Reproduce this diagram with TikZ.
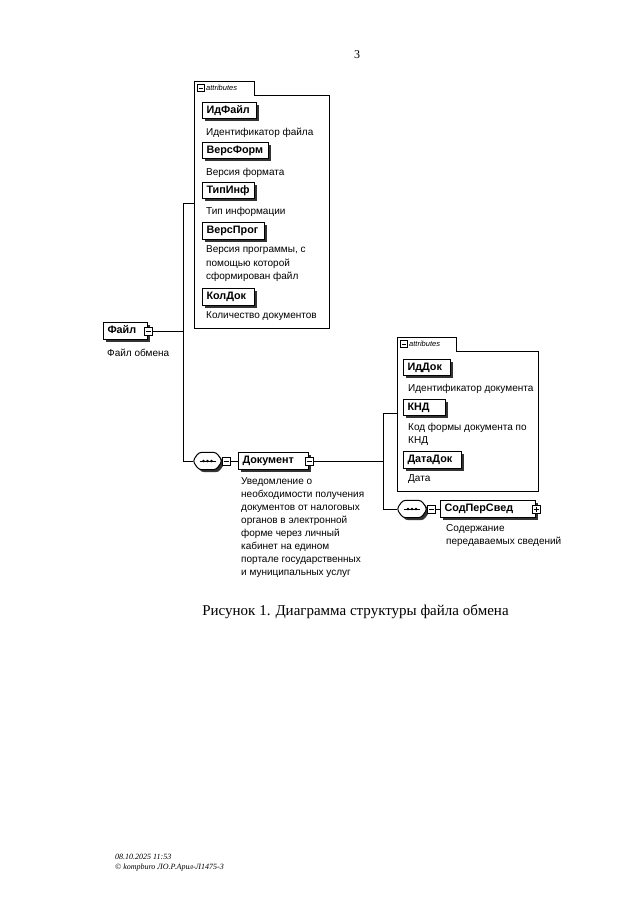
\documentclass[tikz,border=0pt]{standalone}
\usepackage{fontspec}
\setmainfont{Liberation Serif}
\setsansfont{Liberation Sans}
\usetikzlibrary{shadows,calc}
\newcommand\elfont{\sffamily\bfseries\fontsize{10.8}{12}\selectfont}
\newcommand\descfont{\sffamily\fontsize{10}{13}\selectfont}
\newcommand\seqdraw[1]{%
 \fill[black!80, rounded corners=3pt] ($(#1.north west)+(8.5,2.5)$) -- ($(#1.north east)+(-3.5,2.5)$) -- ($(#1.east)+(2.5,2.5)$) -- ($(#1.south east)+(-3.5,2.5)$) -- ($(#1.south west)+(8.5,2.5)$) -- ($(#1.west)+(2.5,2.5)$) -- cycle;
 \draw[fill=white, line width=1pt, rounded corners=3pt] ($(#1.north west)+(6,0)$) -- ($(#1.north east)+(-6,0)$) -- (#1.east) -- ($(#1.south east)+(-6,0)$) -- ($(#1.south west)+(6,0)$) -- (#1.west) -- cycle;
 \draw[line width=0.9pt] ($(#1.center)+(-8,0)$) -- ($(#1.center)+(8,0)$);
 \foreach \dx in {-4,0,4} \fill ($(#1.center)+(\dx,0)$) circle (1.3pt);
}
\tikzset{
  el/.style={draw, fill=white, line width=1pt, font=\elfont, minimum height=16.5pt,
    inner xsep=4pt, inner ysep=0pt, anchor=west, align=left, text width=#1,
    text height=7.6pt, text depth=2.4pt,
    general shadow={fill=black!80, shadow xshift=2.5pt, shadow yshift=-2.5pt}},
  desc/.style={font=\descfont, anchor=base west, align=left, inner sep=0pt},
  mbox/.style={draw, fill=white, line width=0.7pt, minimum size=8pt, inner sep=0pt,
    path picture={\draw[line width=0.7pt] ([xshift=1.5pt]path picture bounding box.west) -- ([xshift=-1.5pt]path picture bounding box.east);}},
  pbox/.style={draw, fill=white, line width=0.7pt, minimum size=8pt, inner sep=0pt,
    path picture={\draw[line width=0.7pt] ([xshift=1.5pt]path picture bounding box.west) -- ([xshift=-1.5pt]path picture bounding box.east);
      \draw[line width=0.7pt] ([yshift=-1.5pt]path picture bounding box.north) -- ([yshift=1.5pt]path picture bounding box.south);}},
  seqbox/.style={minimum width=#1, minimum height=17pt, inner sep=0pt},
  conn/.style={line width=1pt},
  frm/.style={draw, line width=1pt},
  tabtxt/.style={font=\sffamily\itshape\fontsize{7.5}{9}\selectfont, inner sep=0pt, anchor=west},
}
\begin{document}
\begin{tikzpicture}[x=1pt,y=-1pt]
\useasboundingbox (0,0) rectangle (640,905);
\fill[white] (0,0) rectangle (640,905);

% page number
\node[font=\fontsize{12}{14}\selectfont, inner sep=0pt] (pn) at (357,55) {3};

% ---------- attributes box 1 ----------
\draw[frm] (194,328) -- (194,81) -- (254,81) -- (254,95) -- (329,95) -- (329,328) -- cycle;
\node[mbox, minimum size=7pt] (t1m) at (200.5,88) {};
\node[tabtxt] (t1t) at (206,88) {attributes};

\node[el=46pt] (idf) at (202,110.5) {ИдФайл};
\node[desc] (idfd) at (206,135.5) {Идентификатор файла};
\node[el=58pt] (vf) at (202,150.5) {ВерсФорм};
\node[desc] (vfd) at (206,175.5) {Версия формата};
\node[el=44pt] (ti) at (202,190.5) {ТипИнф};
\node[desc] (tid) at (206,214.5) {Тип информации};
\node[el=54pt] (vp) at (202,231) {ВерсПрог};
% multi-line: placed at the baseline of the last line
\node[desc, font=\sffamily\fontsize{10}{13.5}\selectfont] (vpd) at (206,279.5) {Версия программы, с\\помощью которой\\сформирован файл};
\node[el=44pt] (kd) at (202,297) {КолДок};
\node[desc] (kdd) at (206,318.5) {Количество документов};

% ---------- root element ----------
\node[el=36pt] (f) at (103,331) {Файл};
\node[mbox] (fm) at (f.east) {};
\node[desc] (fd) at (107,356.5) {Файл обмена};

% ---------- sequence 1 + Документ ----------
\node[seqbox=29pt] (s1) at (207.5,461) {};
\seqdraw{s1}
\node[mbox] (s1m) at ($(s1.east)+(4,0)$) {};
\node[el=62pt] (doc) at (238,461) {Документ};
\node[mbox] (docm) at (doc.east) {};
\node[desc] (docd) at (241,575.5) {Уведомление о\\необходимости получения\\документов от налоговых\\органов в электронной\\форме через личный\\кабинет на едином\\портале государственных\\и муниципальных услуг};

% connectors from Файл
\coordinate (a1in) at (194,203);
\coordinate (jA) at (183,203);
\coordinate (jB) at (183,461);
\draw[conn] (fm.east) -- (fm.east -| jA);
\draw[conn] (a1in) -- (jA) -- (jB) -- (s1.west);
\draw[conn] (s1m.east) -- (doc.west);

% ---------- attributes box 2 ----------
\draw[frm] (397,491) -- (397,337) -- (456,337) -- (456,351) -- (538,351) -- (538,491) -- cycle;
\node[mbox, minimum size=7pt] (t2m) at (403.5,344) {};
\node[tabtxt] (t2t) at (409,344) {attributes};

\node[el=39pt] (idd) at (403,367.5) {ИдДок};
\node[desc] (iddd) at (408,391) {Идентификатор документа};
\node[el=34pt] (knd) at (403,407.5) {КНД};
\node[desc] (kndd) at (408,443) {Код формы документа по\\КНД};
\node[el=50pt] (dd) at (403,460) {ДатаДок};
\node[desc] (ddd) at (408,481.5) {Дата};

% ---------- sequence 2 + СодПерСвед ----------
\node[seqbox=30pt] (s2) at (412,509) {};
\seqdraw{s2}
\node[mbox] (s2m) at ($(s2.east)+(4,0)$) {};
\node[el=87pt] (sps) at (440,509) {СодПерСвед};
\node[pbox] (spsp) at (sps.east) {};
\node[desc] (spsd) at (446,544.5) {Содержание\\передаваемых сведений};

% connectors from Документ
\coordinate (a2in) at (397,413);
\coordinate (jC) at (383,413);
\coordinate (jD) at (383,509);
\draw[conn] (docm.east) -- (docm.east -| jC);
\draw[conn] (a2in) -- (jC) -- (jD) -- (s2.west);
\draw[conn] (s2m.east) -- (sps.west);

% ---------- caption ----------
\node[font=\fontsize{15}{18}\selectfont, inner sep=0pt] (cap) at (355.5,612) {Рисунок 1. Диаграмма структуры файла обмена};

% ---------- footer ----------
\node[font=\itshape\fontsize{8}{9.5}\selectfont, anchor=base west, inner sep=0pt] (ft1) at (115,859) {08.10.2025 11:53};
\node[font=\itshape\fontsize{8}{9.5}\selectfont, anchor=base west, inner sep=0pt] (ft2) at (115,869) {© kompburo ЛО.Р.Арил-Л1475-3};
\end{tikzpicture}
\end{document}
